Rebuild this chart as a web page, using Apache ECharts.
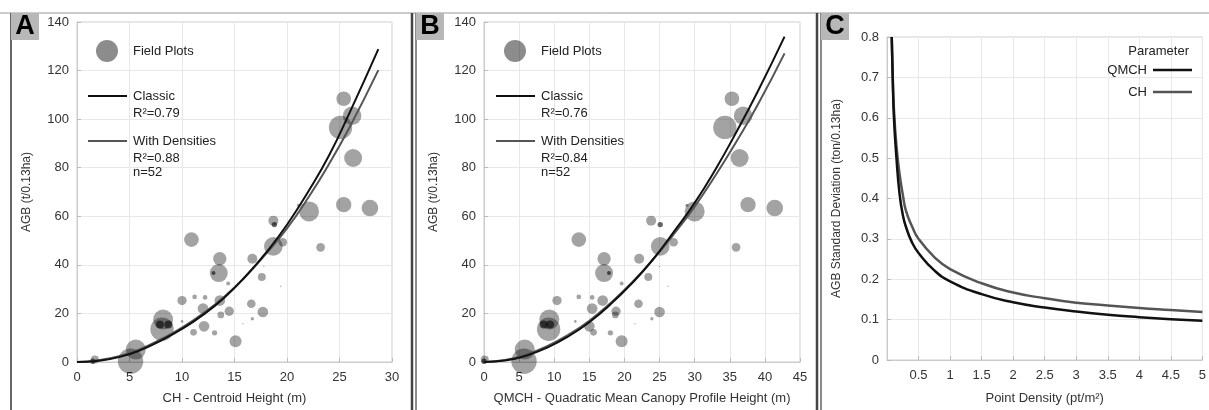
<!DOCTYPE html>
<html>
<head>
<meta charset="utf-8">
<script src="https://cdn.jsdelivr.net/npm/echarts@6/dist/echarts.min.js"></script>
<style>
  html, body { margin: 0; padding: 0; background: #fff; }
  #chart { width: 1209px; height: 410px; }
</style>
</head>
<body>
<div id="chart"></div>
<script>
// field plots: CH (panel A x), QMCH (panel B x), AGB (y), bubble weight
const plotCH   = [25.4, 26.2, 25.1, 26.3, 25.4, 27.9, 22.1, 21.1, 18.7, 19.6, 18.7, 23.2, 10.9, 13.6, 13.5, 16.7, 17.6, 17.8, 19.4, 14.4, 10.0, 11.2, 12.2, 13.6, 12.0, 14.5, 13.7, 16.6, 17.7, 16.7, 15.8, 10.0, 8.2, 8.1, 12.1, 11.1, 13.1, 15.1, 5.6, 5.1, 1.7];
const plotQMCH = [35.3, 36.9, 34.3, 36.4, 37.6, 41.4, 30.0, 28.9, 23.8, 27.0, 25.1, 35.9, 13.5, 17.1, 17.1, 22.1, 23.4, 25.0, 26.2, 19.6, 10.4, 13.5, 15.4, 16.9, 15.4, 18.8, 18.7, 22.0, 25.0, 23.9, 21.5, 13.0, 9.3, 9.2, 15.0, 15.6, 18.0, 19.6, 5.8, 5.7, 0.1];
const plotAGB  = [108.4, 101.4, 96.6, 84, 64.8, 63.4, 62, 64.5, 58.2, 49.3, 47.6, 47.2, 50.4, 42.5, 36.6, 42.5, 35, 39.4, 31.2, 32.3, 25.3, 26.8, 26.6, 25.3, 22, 20.9, 19.4, 24, 20.6, 17.8, 15.8, 16.7, 17.5, 13.5, 14.7, 12.2, 12.0, 8.5, 5.1, 0.3, 1];
const plotWeight = [22, 28, 35, 27, 23, 25, 30, 5, 15, 13, 28, 13, 22, 20, 27, 15, 12, 2, 2, 6, 14, 7, 7, 16, 16, 14, 10, 13, 16, 5, 2, 4, 30, 35, 16, 10, 8, 18, 30, 38, 12];

// dense (overlapping) plots shown as dark spots
const spotCH   = [7.9, 8.7, 18.8, 13.0, 1.5];
const spotQMCH = [8.5, 9.4, 25.1, 17.8, 0.0];
const spotAGB  = [15.4, 15.4, 56.6, 36.6, 0.3];
const spotWeight = [12, 12, 8, 6, 8];

// fitted curves, panel A
const curveCH = [0, 2, 4, 6, 8, 10, 12, 14, 16, 18, 20, 22, 24, 26, 28.7];
const classicCH = [0, 0.5, 2.0, 4.8, 8.8, 13.6, 19.4, 26.4, 35, 45, 56.5, 70, 85, 103, 128.8];
const densCH    = [0, 0.7, 2.4, 5.3, 9.4, 14.2, 20, 26.8, 35, 44.5, 55, 67.5, 81.5, 97, 120.2];

// fitted curves, panel B
const curveQMCH = [0, 3, 6, 9, 12, 15, 18, 21, 24, 27, 30, 33, 36, 39, 42.8];
const classicQMCH = [0, 0.6, 2.6, 5.9, 10.5, 16.4, 23.7, 32.2, 42, 53.5, 65.5, 79.5, 95, 111.5, 134];
const densQMCH    = [0, 0.8, 3.0, 6.5, 11.2, 17, 24.2, 32.5, 42, 52.5, 64, 77, 91, 106, 127.1];

// panel C: AGB standard deviation vs point density
const density = [0.075, 0.09, 0.11, 0.15, 0.2, 0.25, 0.3, 0.4, 0.5, 0.75, 1, 1.5, 2, 2.5, 3, 3.5, 4, 4.5, 5];
const sdQMCH = [0.8, 0.7, 0.6, 0.5, 0.41, 0.36, 0.33, 0.29, 0.265, 0.222, 0.195, 0.163, 0.143, 0.13, 0.12, 0.112, 0.106, 0.101, 0.097];
const sdCH   = [0.8, 0.71, 0.62, 0.53, 0.46, 0.41, 0.37, 0.33, 0.30, 0.255, 0.225, 0.19, 0.167, 0.153, 0.142, 0.135, 0.129, 0.124, 0.119];

const FONT = "'Liberation Sans', Arial, sans-serif";
const zip = (xs, ys, ws) => xs.map((x, i) => ws ? [x, ys[i], ws[i]] : [x, ys[i]]);

function xAxisOf(gi, max, interval, name, gap) {
  return {
    gridIndex: gi, type: "value", min: 0, max: max, interval: interval,
    name: name, nameLocation: "middle", nameGap: gap,
    nameTextStyle: { fontFamily: FONT, fontSize: 13, color: "#333" },
    axisLine: { show: true, lineStyle: { color: "#ccc" } },
    axisTick: { show: true, inside: true, length: 4, lineStyle: { color: "#bbb" } },
    axisLabel: { fontFamily: FONT, fontSize: 13, color: "#333", margin: 9 },
    splitLine: { show: true, lineStyle: { color: "#e8e8e8" } },
  };
}
function yAxisOf(gi, max, interval, name, gap) {
  return {
    gridIndex: gi, type: "value", min: 0, max: max, interval: interval,
    name: name, nameLocation: "middle", nameGap: gap,
    nameTextStyle: { fontFamily: FONT, fontSize: 12, color: "#333" },
    axisLine: { show: true, lineStyle: { color: "#ccc" } },
    axisTick: { show: true, inside: true, length: 4, lineStyle: { color: "#bbb" } },
    axisLabel: { fontFamily: FONT, fontSize: 13, color: "#333", margin: 8 },
    splitLine: { show: true, lineStyle: { color: "#e8e8e8" } },
  };
}

const bubble = (gi, data, color) => ({
  type: "scatter", xAxisIndex: gi, yAxisIndex: gi, data: data,
  symbolSize: (v) => v[2] * 2 / 3,
  itemStyle: { color: color }, z: 2, silent: true,
});
const curve = (gi, data, color, width) => ({
  type: "line", xAxisIndex: gi, yAxisIndex: gi, data: data, smooth: true,
  showSymbol: false, lineStyle: { color: color, width: width }, z: 5, silent: true,
});

function legendAB(x0, r1, r2) {
  const t = (x, y, s) => ({ type: "text", x: x, y: y, z: 100,
    style: { text: s, fontFamily: FONT, fontSize: 13, fill: "#222", verticalAlign: "middle" } });
  return [
    { type: "circle", z: 100, shape: { cx: x0 + 19, cy: 51, r: 11 }, style: { fill: "rgba(0,0,0,0.45)" } },
    t(x0 + 45, 51, "Field Plots"),
    { type: "line", z: 100, shape: { x1: x0, y1: 96, x2: x0 + 39, y2: 96 }, style: { stroke: "#111", lineWidth: 2 } },
    t(x0 + 45, 96, "Classic"),
    t(x0 + 45, 113, r1),
    { type: "line", z: 100, shape: { x1: x0, y1: 141, x2: x0 + 39, y2: 141 }, style: { stroke: "#555", lineWidth: 2 } },
    t(x0 + 45, 141, "With Densities"),
    t(x0 + 45, 158, r2),
    t(x0 + 45, 172, "n=52"),
  ];
}
function panelTag(x, s) {
  return [
    { type: "rect", z: 100, shape: { x: x, y: 13, width: 28, height: 27 }, style: { fill: "#b8b8b8" } },
    { type: "text", z: 101, x: x + 14, y: 27, style: { text: s, fontFamily: FONT, fontWeight: "bold", fontSize: 27, fill: "#000", align: "center", verticalAlign: "middle" } },
  ];
}
const vline = (x, color, w) => ({ type: "line", z: 100, shape: { x1: x, y1: 13, x2: x, y2: 410 }, style: { stroke: color, lineWidth: w } });
const legendText = (x, y, s) => ({ type: "text", z: 100, x: x, y: y,
  style: { text: s, fontFamily: FONT, fontSize: 13, fill: "#222", align: "right", verticalAlign: "middle" } });

const chart = echarts.init(document.getElementById("chart"));
chart.setOption({
  animation: false,
  grid: [
    { left: 77, top: 22, width: 315, height: 340, show: true, borderColor: "#ccc", borderWidth: 1 },
    { left: 484, top: 22, width: 316, height: 340, show: true, borderColor: "#ccc", borderWidth: 1 },
    { left: 887, top: 37, width: 317, height: 325, show: true, borderColor: "#ccc", borderWidth: 1 },
  ],
  xAxis: [
    xAxisOf(0, 30, 5, "CH - Centroid Height (m)", 30),
    xAxisOf(1, 45, 5, "QMCH - Quadratic Mean Canopy Profile Height (m)", 30),
    Object.assign(xAxisOf(2, 5, 0.5, "Point Density (pt/m²)", 32), {
      axisLabel: { fontFamily: FONT, fontSize: 13, color: "#333", margin: 9, showMinLabel: false },
    }),
  ],
  yAxis: [
    yAxisOf(0, 140, 20, "AGB (t/0.13ha)", 44),
    yAxisOf(1, 140, 20, "AGB (t/0.13ha)", 44),
    yAxisOf(2, 0.8, 0.1, "AGB Standard Deviation (ton/0.13ha)", 44),
  ],
  series: [
    bubble(0, zip(plotCH, plotAGB, plotWeight), "rgba(0,0,0,0.45)"),
    bubble(0, zip(spotCH, spotAGB, spotWeight), "rgba(0,0,0,0.75)"),
    curve(0, zip(curveCH, densCH), "#555", 2),
    curve(0, zip(curveCH, classicCH), "#111", 2),
    bubble(1, zip(plotQMCH, plotAGB, plotWeight), "rgba(0,0,0,0.45)"),
    bubble(1, zip(spotQMCH, spotAGB, spotWeight), "rgba(0,0,0,0.75)"),
    curve(1, zip(curveQMCH, densQMCH), "#555", 2),
    curve(1, zip(curveQMCH, classicQMCH), "#111", 2),
    curve(2, zip(density, sdCH), "#555", 2.5),
    curve(2, zip(density, sdQMCH), "#111", 2.5),
  ],
  graphic: [
    { type: "line", z: 100, shape: { x1: 0, y1: 13, x2: 1209, y2: 13 }, style: { stroke: "#999", lineWidth: 1 } },
    vline(11, "#333", 1.5),
    vline(412, "#444", 2.5),
    vline(416, "#666", 1.5),
    vline(817, "#444", 2.5),
    vline(821, "#666", 1.5),
    ...panelTag(11, "A"),
    ...panelTag(416, "B"),
    ...panelTag(821, "C"),
    ...legendAB(88, "R²=0.79", "R²=0.88"),
    ...legendAB(496, "R²=0.76", "R²=0.84"),
    legendText(1189, 51, "Parameter"),
    legendText(1147, 70, "QMCH"),
    { type: "line", z: 100, shape: { x1: 1153, y1: 70, x2: 1192, y2: 70 }, style: { stroke: "#111", lineWidth: 2.5 } },
    legendText(1147, 92, "CH"),
    { type: "line", z: 100, shape: { x1: 1153, y1: 92, x2: 1192, y2: 92 }, style: { stroke: "#555", lineWidth: 2.5 } },
  ],
});
</script>
</body>
</html>
